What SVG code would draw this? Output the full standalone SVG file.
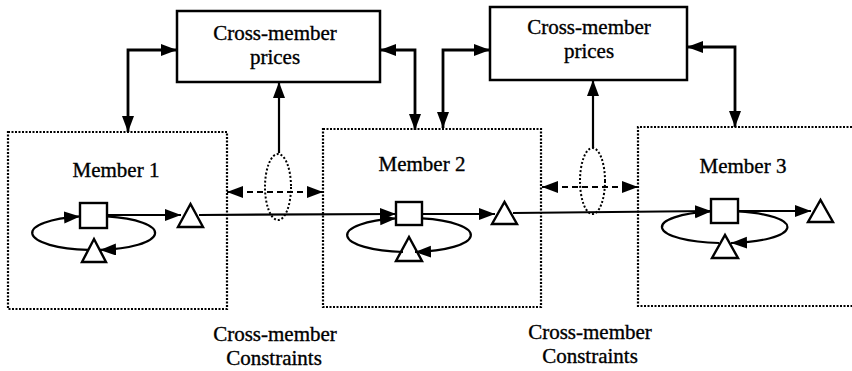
<svg xmlns="http://www.w3.org/2000/svg" width="852" height="371" viewBox="0 0 852 371">
  <style>
    .lbl { font-family: "Liberation Serif", "Times New Roman", serif; font-size: 21px; fill: #000; stroke: #000; stroke-width: 0.35; text-anchor: middle; }
    .box { fill: #fff; stroke: #000; stroke-width: 2.5; }
    .member { fill: none; stroke: #000; stroke-width: 2.2; stroke-dasharray: 2 1.5; }
    .oval { fill: none; stroke: #000; stroke-width: 2; stroke-dasharray: 2 2; }
    .wire { fill: none; stroke: #000; stroke-width: 2.2; }
    .thick { fill: none; stroke: #000; stroke-width: 2.8; }
    .dash { fill: none; stroke: #000; stroke-width: 2.2; stroke-dasharray: 6 4; }
    .shape { fill: #fff; stroke: #000; stroke-width: 2.4; }
  </style>
  <defs>
    <marker id="head" markerUnits="userSpaceOnUse" markerWidth="18" markerHeight="14" refX="16" refY="6" orient="auto-start-reverse">
      <path d="M0,0 L16,6 L0,12 Z" fill="#000"/>
    </marker>
  </defs>

  <rect width="852" height="371" fill="#fff"/>

  <!-- member boundaries -->
  <g id="member1">
    <rect class="member" x="8" y="132" width="219" height="177"/>
    <text class="lbl" x="116" y="177">Member 1</text>
    <rect class="shape" x="80" y="203" width="27" height="25"/>
    <polygon class="shape" points="178,227 203,227 190.5,204"/>
    <polygon class="shape" points="82,262 106,262 94,239"/>
  </g>

  <g id="member2">
    <rect class="member" x="323" y="129" width="218" height="178"/>
    <text class="lbl" x="422" y="171">Member 2</text>
    <rect class="shape" x="396" y="202" width="26" height="23"/>
    <polygon class="shape" points="492,224 517,224 504.5,202"/>
    <polygon class="shape" points="396,261 422,261 409,237"/>
  </g>

  <g id="member3">
    <path class="member" d="M852,127 H638 V306 H852"/>
    <text class="lbl" x="743" y="173">Member 3</text>
    <rect class="shape" x="711" y="199" width="27" height="24"/>
    <polygon class="shape" points="808,222 833,222 820.5,200"/>
    <polygon class="shape" points="712,258 738,258 725,235"/>
  </g>

  <!-- price coordinators -->
  <g id="prices1">
    <rect class="box" x="177" y="11" width="203" height="71"/>
    <text class="lbl" x="275" y="40">Cross-member</text>
    <text class="lbl" x="275" y="64">prices</text>
  </g>

  <g id="prices2">
    <rect class="box" x="490" y="7" width="197" height="73"/>
    <text class="lbl" x="589" y="34">Cross-member</text>
    <text class="lbl" x="589" y="58">prices</text>
  </g>

  <!-- constraint groupings -->
  <g id="constraints1">
    <ellipse class="oval" cx="278" cy="187" rx="13" ry="33"/>
    <text class="lbl" x="275" y="341">Cross-member</text>
    <text class="lbl" x="274" y="365">Constraints</text>
  </g>

  <g id="constraints2">
    <ellipse class="oval" cx="592.5" cy="181" rx="12.5" ry="33"/>
    <text class="lbl" x="590" y="339">Cross-member</text>
    <text class="lbl" x="590" y="363">Constraints</text>
  </g>

  <g id="connectors">
    <!-- price exchange with members -->
    <path class="thick" d="M128,132 V50 H177" marker-start="url(#head)" marker-end="url(#head)"/>
    <path class="thick" d="M415,130 V50 H380" marker-start="url(#head)" marker-end="url(#head)"/>
    <path class="thick" d="M443,128 V50 H490" marker-start="url(#head)" marker-end="url(#head)"/>
    <path class="thick" d="M735,127 V47 H687" marker-start="url(#head)" marker-end="url(#head)"/>
    <path class="wire" d="M279,153 V82" marker-end="url(#head)"/>
    <path class="wire" d="M593,148 V80" marker-end="url(#head)"/>

    <!-- constraint links between neighbours -->
    <path class="dash" d="M227,192 H323" marker-start="url(#head)" marker-end="url(#head)"/>
    <path class="dash" d="M542,187 H638" marker-start="url(#head)" marker-end="url(#head)"/>

    <!-- flow chain -->
    <path class="wire" d="M107,215 H181" marker-end="url(#head)"/>
    <path class="wire" d="M199,215 L396,214" marker-end="url(#head)"/>
    <path class="wire" d="M422,214 H495" marker-end="url(#head)"/>
    <path class="wire" d="M513,213 L711,211" marker-end="url(#head)"/>
    <path class="wire" d="M738,211 H811" marker-end="url(#head)"/>

    <!-- inner loops -->
    <path class="wire" d="M107,216.4 A61.5,17 0 0 1 100,249.9" marker-end="url(#head)"/>
    <path class="wire" d="M88,249.9 A61.5,17 0 0 1 80,216.4" marker-end="url(#head)"/>
    <path class="wire" d="M422,218.4 A61,17 0 0 1 415,252" marker-end="url(#head)"/>
    <path class="wire" d="M403,252 A61,17 0 0 1 396,218.4" marker-end="url(#head)"/>
    <path class="wire" d="M738,211.4 A62,16 0 0 1 731,243" marker-end="url(#head)"/>
    <path class="wire" d="M719,243 A62,16 0 0 1 711,211.4" marker-end="url(#head)"/>
  </g>
</svg>
